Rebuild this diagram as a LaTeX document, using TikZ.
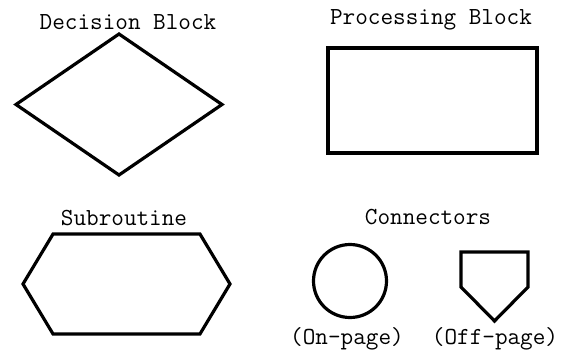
\documentclass[tikz,border=0pt]{standalone}
\usetikzlibrary{shapes.geometric,shapes.symbols}
\begin{document}
\begin{tikzpicture}[
    x=1pt, y=-1pt,
    outline/.style={
        draw,
        line width=3.2pt,
        line join=miter,
        inner sep=0pt,
        outer sep=0pt
    },
    caption/.style={
        font=\fontsize{24.5}{28}\selectfont\ttfamily,
        inner sep=0pt
    }
]
\useasboundingbox (0,0) rectangle (567,349);

% Captions
\node [caption] (decisiontxt) at (128,22) {Decision Block};
\node [caption] (processtxt) at (431,20) {Processing Block};
\node [caption] (subtxt) at (124,218) {Subroutine};
\node [caption] (conntxt) at (428,217) {Connectors};
\node [caption] (ontxt) at (347,339) {(On-page)};
\node [caption] (offtxt) at (495,339) {(Off-page)};

% Blocks
\node [outline, diamond, minimum width=206pt, minimum height=141pt] (decision) at (119,104.5) {};
\node [outline, rectangle, minimum width=209pt, minimum height=105pt] (process) at (432.5,100.5) {};
\node [outline, signal, signal to=east and west, signal pointer angle=118,
       minimum width=207pt, minimum height=100pt] (subroutine) at (126.5,284) {};

% Connectors
\node [outline, circle, minimum size=73pt] (onpage) at (350,281) {};
\coordinate (offpage) at (494.5,287);
\draw [outline] ([shift={(-33.5,-35)}]offpage) -- ([shift={(33.5,-35)}]offpage)
    -- ([shift={(33.5,0)}]offpage) -- ([shift={(0,34)}]offpage)
    -- ([shift={(-33.5,0)}]offpage) -- cycle;

\end{tikzpicture}
\end{document}
